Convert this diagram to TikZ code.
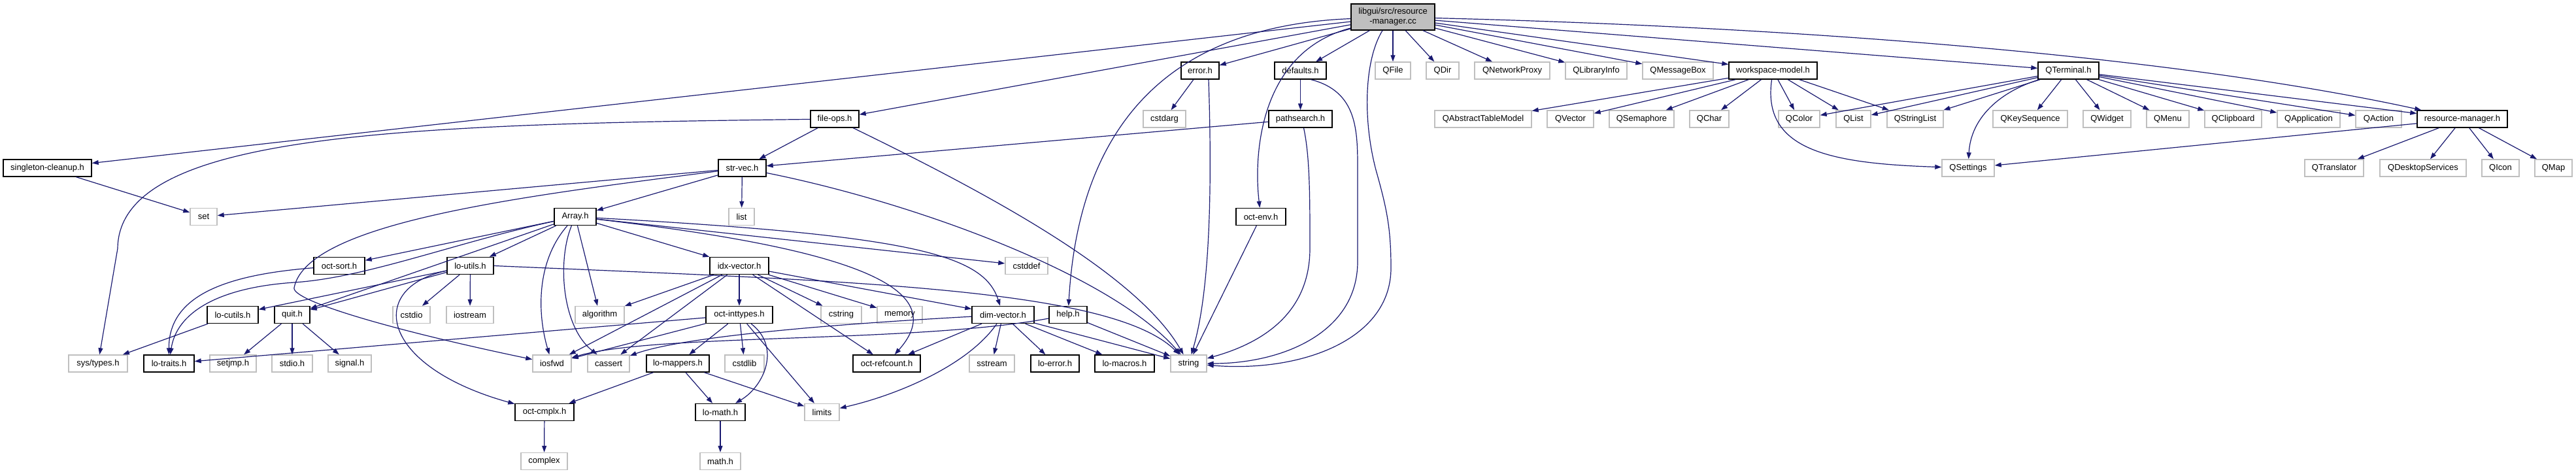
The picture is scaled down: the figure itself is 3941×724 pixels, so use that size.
\documentclass[tikz,border=0pt]{standalone}
\usepackage{fontspec}
\setmainfont{Liberation Sans}
\usetikzlibrary{arrows.meta}
\definecolor{edgeblue}{HTML}{191970}
\definecolor{extgray}{HTML}{BFBFBF}
\tikzset{
  doc/.style={rectangle,draw=black,line width=1.4pt,fill=white,minimum height=26pt,inner sep=0pt,font=\fontsize{13}{15}\selectfont},
  ext/.style={doc,draw=extgray},
  inc/.style={draw=edgeblue,line width=1.2pt,-{Triangle[length=10pt,width=7pt]}}
}

\begin{document}
\begin{tikzpicture}[x=1pt,y=-1pt]
\useasboundingbox (0,0) rectangle (3941,724);

\node[doc,fill=extgray,minimum width=128pt,minimum height=40pt,align=center] (root) at (2131,26) {libgui/src/resource\\-manager.cc};

\node[doc,minimum width=58pt] (errorh) at (1836,108) {error.h};
\node[doc,minimum width=79pt] (defaults) at (1989.5,108) {defaults.h};
\node[ext,minimum width=54pt] (qfile) at (2131,108) {QFile};
\node[ext,minimum width=50pt] (qdir) at (2207,108) {QDir};
\node[ext,minimum width=115pt] (qnetproxy) at (2313.5,108) {QNetworkProxy};
\node[ext,minimum width=94pt] (qlibinfo) at (2442,108) {QLibraryInfo};
\node[ext,minimum width=108pt] (qmsgbox) at (2567,108) {QMessageBox};
\node[doc,minimum width=135pt] (wsmodel) at (2712.5,108) {workspace-model.h};
\node[doc,minimum width=93pt] (qterminal) at (3164.5,108) {QTerminal.h};

\node[doc,minimum width=74pt] (fileops) at (1277,182) {file-ops.h};
\node[ext,minimum width=65pt] (cstdarg) at (1781.5,182) {cstdarg};
\node[doc,minimum width=97pt] (pathsearch) at (1989.5,182) {pathsearch.h};
\node[ext,minimum width=148pt] (qabstable) at (2269,182) {QAbstractTableModel};
\node[ext,minimum width=71pt] (qvector) at (2402.5,182) {QVector};
\node[ext,minimum width=99pt] (qsemaphore) at (2511.5,182) {QSemaphore};
\node[ext,minimum width=60pt] (qchar) at (2615,182) {QChar};
\node[ext,minimum width=63pt] (qcolor) at (2752.5,182) {QColor};
\node[ext,minimum width=53pt] (qlist) at (2835.5,182) {QList};
\node[ext,minimum width=86pt] (qstringlist) at (2930,182) {QStringList};
\node[ext,minimum width=114pt] (qkeyseq) at (3106,182) {QKeySequence};
\node[ext,minimum width=73pt] (qwidget) at (3223.5,182) {QWidget};
\node[ext,minimum width=65pt] (qmenu) at (3316.5,182) {QMenu};
\node[ext,minimum width=87pt] (qclipboard) at (3416.5,182) {QClipboard};
\node[ext,minimum width=96pt] (qapplication) at (3532,182) {QApplication};
\node[ext,minimum width=70pt] (qaction) at (3639,182) {QAction};
\node[doc,minimum width=138pt] (resmgr) at (3767,182) {resource-manager.h};

\node[doc,minimum width=135pt] (singleton) at (72.5,257) {singleton-cleanup.h};
\node[doc,minimum width=73pt] (strvec) at (1135.5,257) {str-vec.h};
\node[ext,minimum width=80pt] (qsettings) at (3011,257) {QSettings};
\node[ext,minimum width=90pt] (qtranslator) at (3571,257) {QTranslator};
\node[ext,minimum width=132pt] (qdesktop) at (3707,257) {QDesktopServices};
\node[ext,minimum width=57pt] (qicon) at (3825.5,257) {QIcon};
\node[ext,minimum width=57pt] (qmap) at (3906.5,257) {QMap};

\node[ext,minimum width=41pt] (seth) at (311.5,331.5) {set};
\node[doc,minimum width=64pt] (array) at (880,331.5) {Array.h};
\node[ext,minimum width=39pt] (list) at (1134.5,331.5) {list};
\node[doc,minimum width=76pt] (octenv) at (1929,331.5) {oct-env.h};

\node[doc,minimum width=78pt] (octsort) at (519,406.5) {oct-sort.h};
\node[doc,minimum width=71pt] (loutils) at (719.5,406.5) {lo-utils.h};
\node[doc,minimum width=90pt] (idxvector) at (1131,406.5) {idx-vector.h};
\node[ext,minimum width=65pt] (cstddef) at (1570.5,406.5) {cstddef};

\node[doc,minimum width=78pt] (locutils) at (356,481.5) {lo-cutils.h};
\node[doc,minimum width=54pt] (quit) at (447,481.5) {quit.h};
\node[ext,minimum width=57pt] (cstdio) at (629.5,481.5) {cstdio};
\node[ext,minimum width=72pt] (iostream) at (719,481.5) {iostream};
\node[ext,minimum width=75pt] (algorithm) at (917.5,481.5) {algorithm};
\node[doc,minimum width=102pt] (octinttypes) at (1131,481.5) {oct-inttypes.h};
\node[ext,minimum width=62pt] (cstring) at (1287,481.5) {cstring};
\node[ext,minimum width=69pt] (memory) at (1376.5,481.5) {memory};
\node[doc,minimum width=95pt] (dimvector) at (1534.5,481.5) {dim-vector.h};
\node[doc,minimum width=58pt] (help) at (1634,481.5) {help.h};

\node[ext,minimum width=90pt] (systypes) at (150,556) {sys/types.h};
\node[doc,minimum width=77pt] (lotraits) at (258.5,556) {lo-traits.h};
\node[ext,minimum width=71pt] (setjmp) at (356.5,556) {setjmp.h};
\node[ext,minimum width=62pt] (stdioh) at (447,556) {stdio.h};
\node[ext,minimum width=66pt] (signal) at (535,556) {signal.h};
\node[ext,minimum width=59pt] (iosfwd) at (844.5,556) {iosfwd};
\node[ext,minimum width=64pt] (cassert) at (931,556) {cassert};
\node[doc,minimum width=96pt] (lomappers) at (1037,556) {lo-mappers.h};
\node[ext,minimum width=60pt] (cstdlib) at (1139,556) {cstdlib};
\node[doc,minimum width=103pt] (octrefcount) at (1356.5,556) {oct-refcount.h};
\node[ext,minimum width=69pt] (sstream) at (1517.5,556) {sstream};
\node[doc,minimum width=74pt] (loerror) at (1614,556) {lo-error.h};
\node[doc,minimum width=91pt] (lomacros) at (1720.5,556) {lo-macros.h};
\node[ext,minimum width=55pt] (string) at (1818.5,556) {string};

\node[doc,minimum width=90pt] (octcmplx) at (833,630.5) {oct-cmplx.h};
\node[doc,minimum width=76pt] (lomath) at (1102,630.5) {lo-math.h};
\node[ext,minimum width=53pt] (limits) at (1257.5,630.5) {limits};

\node[ext,minimum width=71pt] (complex) at (832.5,705.5) {complex};
\node[ext,minimum width=62pt] (mathh) at (1102,705.5) {math.h};

\draw[inc] (root) -- (singleton);
\draw[inc] (root) -- (fileops);
\draw[inc] (root) -- (errorh);
\draw[inc] (root) -- (defaults);
\draw[inc] (root) .. controls (1925,80) and (1918,240) .. (octenv);
\draw[inc] (root) .. controls (1780,40) and (1650,200) .. (help);
\draw[inc] ([xshift=-16pt]root.south) .. controls (2088,90) and (2084,180) .. (2105,260) .. controls (2122,320) and (2128,350) .. (2128,410) .. controls (2128,520) and (1990,570) .. (string);
\draw[inc] (root) -- (qfile);
\draw[inc] (root) -- (qdir);
\draw[inc] (root) -- (qnetproxy);
\draw[inc] (root) -- (qlibinfo);
\draw[inc] (root) -- (qmsgbox);
\draw[inc] (root) -- (wsmodel);
\draw[inc] (root) -- (qterminal);
\draw[inc] (root) .. controls (2700,40) and (3300,80) .. (resmgr);

\draw[inc] (errorh) -- (cstdarg);
\draw[inc] ([xshift=13pt]errorh.south) .. controls (1855,300) and (1850,450) .. (string);
\draw[inc] (defaults) -- (pathsearch);
\draw[inc] ([xshift=16pt]defaults.south) .. controls (2077,140) and (2077,200) .. (2077,260) -- (2077,400) .. controls (2077,510) and (1960,556) .. (string);
\draw[inc] ([xshift=5pt]pathsearch.south) .. controls (2004,240) and (2004,300) .. (2004,380) .. controls (2004,480) and (1930,525) .. (string);
\draw[inc] (pathsearch) -- (strvec);
\draw[inc] (octenv) -- (string);

\draw[inc] (fileops) -- (strvec);
\draw[inc] (fileops) .. controls (1520,300) and (1740,420) .. (string);
\draw[inc] (fileops) .. controls (600,190) and (182,205) .. (180,380) -- (systypes);
\draw[inc] (singleton) -- (seth);

\draw[inc] (strvec) -- (array);
\draw[inc] (strvec) -- (list);
\draw[inc] (strvec) -- (seth);
\draw[inc] (strvec) .. controls (800,300) and (470,340) .. (450,440) .. controls (446,460) and (600,505) .. (iosfwd);
\draw[inc] (strvec) .. controls (1400,310) and (1700,420) .. (string);

\draw[inc] (array) -- (octsort);
\draw[inc] (array) -- (loutils);
\draw[inc] (array) -- (idxvector);
\draw[inc] (array) -- (algorithm);
\draw[inc] (array) -- (quit);
\draw[inc] (array) -- (cstddef);
\draw[inc] (array) .. controls (820,400) and (822,480) .. (iosfwd);
\draw[inc] (array) .. controls (852,400) and (860,500) .. (cassert);
\draw[inc] (array) .. controls (1400,360) and (1505,390) .. (dimvector);
\draw[inc] (array) .. controls (1300,380) and (1460,440) .. (octrefcount);
\draw[inc] (array) .. controls (700,370) and (560,425) .. (450,432) .. controls (330,440) and (270,480) .. (lotraits);

\draw[inc] (octsort) .. controls (350,420) and (258,450) .. (lotraits);
\draw[inc] (loutils) -- (cstdio);
\draw[inc] (loutils) -- (iostream);
\draw[inc] (loutils) -- (locutils);
\draw[inc] (loutils) -- (quit);
\draw[inc] (loutils) .. controls (560,440) and (580,560) .. (octcmplx);
\draw[inc] (loutils.east) .. controls (1300,430) and (1700,440) .. (string);
\draw[inc] (locutils) -- (systypes);
\draw[inc] (quit) -- (setjmp);
\draw[inc] (quit) -- (stdioh);
\draw[inc] (quit) -- (signal);

\draw[inc] (idxvector) -- (octinttypes);
\draw[inc] (idxvector) -- (cstring);
\draw[inc] (idxvector) -- (memory);
\draw[inc] (idxvector) -- (dimvector);
\draw[inc] (idxvector) -- (octrefcount);
\draw[inc] (idxvector) -- (algorithm);
\draw[inc] (idxvector) -- (iosfwd);
\draw[inc] (idxvector) -- (cassert);

\draw[inc] (octinttypes) -- (lomappers);
\draw[inc] (octinttypes) -- (cstdlib);
\draw[inc] (octinttypes) -- (limits);
\draw[inc] (octinttypes) -- (lotraits);
\draw[inc] (octinttypes) -- (iosfwd);
\draw[inc] (octinttypes) .. controls (1195,530) and (1170,590) .. (lomath);

\draw[inc] (dimvector) -- (octrefcount);
\draw[inc] (dimvector) -- (sstream);
\draw[inc] (dimvector) -- (loerror);
\draw[inc] (dimvector) -- (lomacros);
\draw[inc] (dimvector) -- (string);
\draw[inc] (dimvector) .. controls (1480,560) and (1370,605) .. (limits);
\draw[inc] (dimvector) .. controls (1200,500) and (1030,520) .. (cassert);
\draw[inc] (help) -- (string);
\draw[inc] (help) .. controls (1400,525) and (1000,510) .. (iosfwd);

\draw[inc] (lomappers) -- (lomath);
\draw[inc] (lomappers) -- (limits);
\draw[inc] (lomappers) -- (octcmplx);
\draw[inc] (lomath) -- (mathh);
\draw[inc] (octcmplx) -- (complex);

\draw[inc] (wsmodel) -- (qabstable);
\draw[inc] (wsmodel) -- (qvector);
\draw[inc] (wsmodel) -- (qsemaphore);
\draw[inc] (wsmodel) -- (qchar);
\draw[inc] (wsmodel) -- (qcolor);
\draw[inc] (wsmodel) -- (qlist);
\draw[inc] (wsmodel) -- (qstringlist);
\draw[inc] (wsmodel) .. controls (2695,230) and (2800,250) .. (qsettings);

\draw[inc] (qterminal) -- (qcolor);
\draw[inc] (qterminal) -- (qlist);
\draw[inc] (qterminal) -- (qstringlist);
\draw[inc] (qterminal) .. controls (3060,140) and (3015,180) .. (qsettings);
\draw[inc] (qterminal) -- (qkeyseq);
\draw[inc] (qterminal) -- (qwidget);
\draw[inc] (qterminal) -- (qmenu);
\draw[inc] (qterminal) -- (qclipboard);
\draw[inc] (qterminal) -- (qapplication);
\draw[inc] (qterminal) -- (qaction);
\draw[inc] (qterminal) -- (resmgr);

\draw[inc] (resmgr) -- (qsettings);
\draw[inc] (resmgr) -- (qtranslator);
\draw[inc] (resmgr) -- (qdesktop);
\draw[inc] (resmgr) -- (qicon);
\draw[inc] (resmgr) -- (qmap);

\end{tikzpicture}
\end{document}
